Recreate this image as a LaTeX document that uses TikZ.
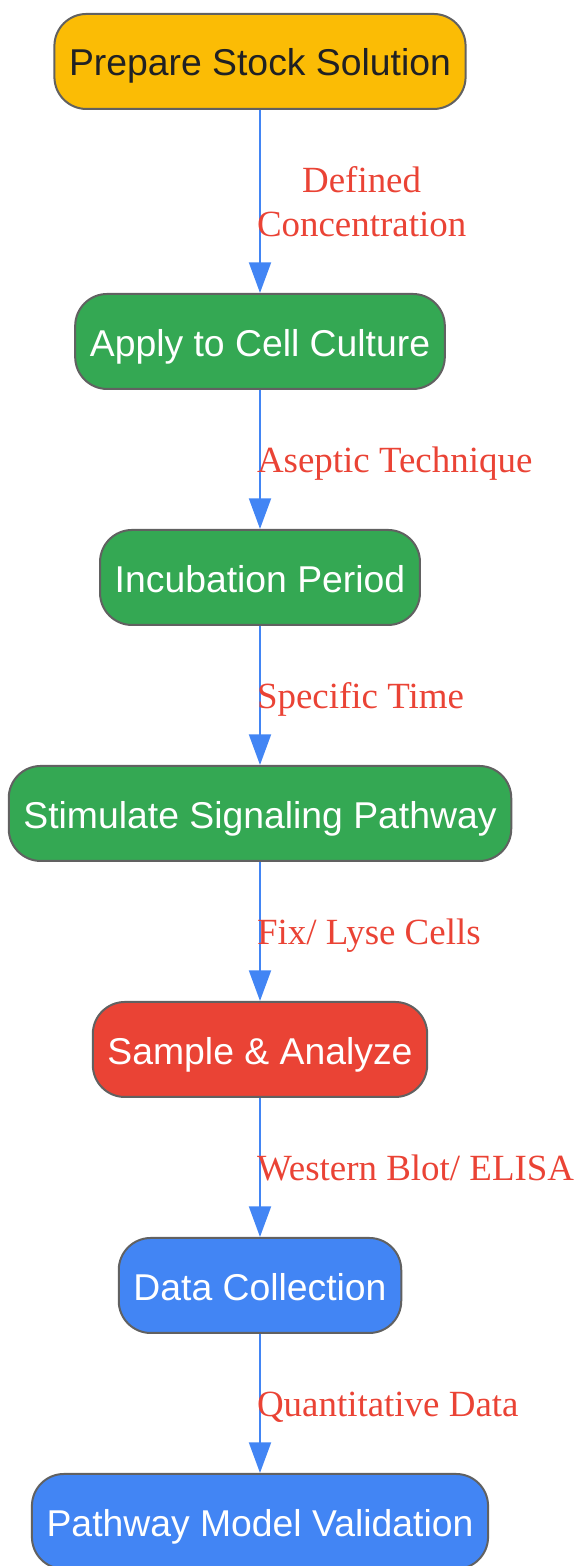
\documentclass[tikz,border=0pt]{standalone}
\usepackage{fontspec}
\setmainfont{Liberation Serif}
\setsansfont{Liberation Sans}
\usepackage{tikz}
\usetikzlibrary{arrows.meta,positioning}

\definecolor{gorange}{HTML}{FBBC05}
\definecolor{ggreen}{HTML}{34A853}
\definecolor{gred}{HTML}{EA4335}
\definecolor{gblue}{HTML}{4285F4}
\definecolor{gborder}{HTML}{616161}
\definecolor{gdark}{HTML}{202124}

\begin{document}
\begin{tikzpicture} [node distance=177pt,on grid,
    stage/.style={draw=gborder, line width=1.5pt, rounded corners=24pt, minimum height=71.25pt, inner xsep=11pt, text height=21.8pt, text depth=0pt, text=white, font=\sffamily\fontsize{28}{33}\selectfont},
    flow/.style={draw=gblue, line width=1.5pt, -{Triangle[length=23pt,width=16.5pt]}},
    lbl/.style={text=gred, inner sep=0pt, xshift=-3pt, font=\rmfamily\fontsize{27.7}{33}\selectfont}]
    \useasboundingbox (0,0) rectangle (435pt,-1174.5pt);
    \node[stage, fill=gorange, text=gdark] (prep) at (195pt,-46.1pt) {Prepare Stock Solution};
    \node[stage, fill=ggreen] (apply) [below=210pt of prep] {Apply to Cell Culture};
    \node[stage, fill=ggreen] (incub) [below= of apply] {Incubation Period};
    \node[stage, fill=ggreen] (stim) [below= of incub] {Stimulate Signaling Pathway};
    \node[stage, fill=gred] (sample) [below= of stim] {Sample \& Analyze};
    \node[stage, fill=gblue] (data) [below= of sample] {Data Collection};
    \node[stage, fill=gblue] (valid) [below= of data] {Pathway Model Validation};

    \draw[flow] (prep) -- node [lbl, anchor=west, align=center, midway] {Defined\\Concentration} (apply);
    \draw[flow] (apply) -- node [lbl, anchor=base west, yshift=-9.75pt, midway] {Aseptic Technique} (incub);
    \draw[flow] (incub) -- node [lbl, anchor=base west, yshift=-9.75pt, midway] {Specific Time} (stim);
    \draw[flow] (stim) -- node [lbl, anchor=base west, yshift=-9.75pt, midway] {Fix/ Lyse Cells} (sample);
    \draw[flow] (sample) -- node [lbl, anchor=base west, yshift=-9.75pt, midway] {Western Blot/ ELISA} (data);
    \draw[flow] (data) -- node [lbl, anchor=base west, yshift=-9.75pt, midway] {Quantitative Data} (valid);
\end{tikzpicture}
\end{document}
